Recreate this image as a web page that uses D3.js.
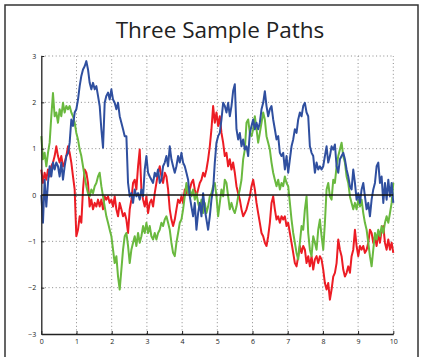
<!DOCTYPE html>
<html>
<head>
<meta charset="utf-8">
<script src="https://cdn.jsdelivr.net/npm/d3@7"></script>
<style>
  body { margin: 0; background: #fff; }
  svg { display: block; }
</style>
</head>
<body>
<div id="chart"></div>
<script>
// sample paths, one value per time step on [0, 10]
const red = [
  0.55, 0.26, 0.48, 0.33, 0.55, 0.4, 0.62, 0.7, 0.84, 1.05, 0.84, 0.7, 0.84, 0.62, 0.7, 0.84, 1.05, 0.91, 0.7, 0.4,
  0.12, -0.89, -0.75, -0.46, -0.6, 0.12, 0.55, 0.48, 0.26, -0.25, -0.1, -0.31, -0.17, -0.25, -0.1, -0.25, -0.1, -0.31, -0.03, -0.1,
  -0.03, -0.17, -0.1, -0.25, -0.03, -0.31, -0.46, -0.17, -0.31, -0.46, -0.39,
  -0.53, -0.82, -0.31, -0.1, 0.26, 0.33, 0.12, 0.62, 0.98, 0.12, -0.1, -0.25, -0.03, -0.39, -0.17, -0.1, -0.25, 0.04, 0.26, 0.48,
  0.62, 0.4, 0.26, 0.48, 0.4, 0.12, -0.31, -0.53, -0.67, -0.53, -0.31, -0.1, -0.17, -0.03, -0.17, 0.12, 0.04, 0.19, 0.12, 0.26,
  0.33, 0.12, -0.03, 0.12, 0.26, 0.33, 0.48, 0.4, 0.55, 0.77, 1.05, 1.42, 1.92,
  1.56, 1.78, 1.49, 1.7, 1.34, 1.13, 0.84, 0.91, 0.62, 0.77, 0.55, 0.7, 0.48, 0.19, 0.04, -0.1, -0.31, -0.46, -0.39, -0.31,
  -0.17, -0.03, 0.19, 0.33, 0.12, -0.17, -0.39, -0.6, -0.82, -0.89, -1.03, -1.1, -0.89, -0.6, -0.17, -0.03, -0.31, -0.53, -0.46, -0.6,
  -0.46, -0.53, -0.46, -0.67, -0.6, -0.82, -1.03, -1.25, -1.47, -1.54, -1.32, -1.1, -1.25,
  -1.1, -1.18, -1.47, -1.32, -1.54, -1.32, -1.61, -1.39, -1.32, -1.47, -1.32, -1.39, -1.61, -1.9, -2.04, -1.9, -2.26, -2.04, -1.76, -1.68,
  -1.47, -0.96, -1.18, -1.32, -1.61, -1.76, -1.68, -1.54, -1.68, -1.32, -1.18, -0.75, -1.1, -1.32, -1.1, -1.18, -1.1, -1.25, -1.18, -1.03,
  -0.75, -0.82, -1.03, -0.89, -1.1, -0.82, -1.03, -0.75, -0.67, -1.03, -1.18, -0.96, -1.18, -1.03, -1.25
];
const green = [
  1.27, 0.77, 0.91, 0.62, 0.91, 1.13, 1.7, 2.2, 1.7, 1.78, 1.56, 1.85, 1.7, 1.99, 1.78, 1.92, 1.85, 1.92, 1.78, 1.7,
  1.56, 1.34, 1.2, 0.98, 0.84, 0.62, 0.4, 0.19, 0.04, -0.03, 0.12, 0.04, 0.19, 0.26, 0.4, 0.48, 0.19, -0.03, -0.25, -0.46,
  -0.6, -0.75, -0.89, -1.18, -1.47, -1.32, -1.76, -2.04, -1.61, -1.18, -0.89,
  -0.82, -1.1, -1.47, -1.18, -1.03, -0.89, -1.1, -0.82, -1.03, -0.89, -0.67, -0.82, -0.6, -0.82, -0.67, -0.89, -0.96, -0.82, -0.96, -0.82,
  -0.75, -0.6, -0.67, -0.53, -0.46, -0.6, -0.75, -1.03, -1.25, -1.32, -1.03, -0.82, -0.6, -0.53, -0.31, -0.03, 0.26, 0.04, 0.12, -0.03,
  0.12, -0.1, 0.04, -0.17, -0.31, -0.1, -0.39, -0.17, -0.39, -0.25, -0.03, 0.04, 0.19,
  0.26, -0.03, -0.46, -0.17, 0.12, -0.03, 0.33, 0.26, -0.03, -0.31, -0.17, -0.31, -0.39, -0.25, -0.03, 0.12, 0.33, 0.77, 0.98, 1.56,
  1.63, 1.34, 1.27, 1.42, 1.7, 1.42, 1.13, 1.34, 1.56, 1.78, 1.63, 1.27, 1.13, 0.98, 0.7, 0.48, 0.33, 0.19, 0.33, 0.12,
  0.26, 0.19, 0.4, 0.26, 0.19, -0.17, -0.53, -0.82, -1.03, -1.25, -1.39, -1.03, -0.67,
  -0.75, -0.31, -0.03, -0.82, -1.18, -1.32, -0.89, -1.03, -1.18, -0.75, -0.53, -0.89, -1.18, -0.6, 0.12, 0.26, -0.03, -0.1, 0.33, 0.26,
  0.62, 0.84, 0.98, 1.13, 0.84, 0.7, 0.4, 0.26, -0.03, -0.17, -0.31, -0.17, -0.31, -0.1, -0.25, -0.1, -0.39, -0.6, -0.75, -1.03,
  -1.32, -1.54, -1.18, -0.82, -0.96, -0.75, -0.89, -0.67, -0.82, -0.6, -0.46, -0.6, -0.39, -0.17, 0.26
];
const blue = [
  0.0, -0.6, 0.33, -0.25, 0.26, 0.62, 0.4, 0.7, 0.55, 0.7, 0.62, 0.4, 0.7, 0.33, 0.62, 0.84, 0.9, 1.13, 1.63, 1.49,
  1.78, 1.85, 2.06, 2.35, 2.57, 2.71, 2.78, 2.89, 2.71, 2.42, 2.28, 2.42, 2.28, 2.35, 2.14, 1.92, 1.42, 1.02, 1.99, 2.14,
  2.21, 2.06, 2.28, 2.06, 1.99, 1.85, 1.99, 1.7, 1.56, 1.42, 1.27,
  1.27, 0.26, -0.03, 0.04, -0.17, 0.12, -0.03, 0.04, -0.1, 0.12, -0.03, 0.55, 0.84, 0.48, 0.4, 0.33, 0.26, 0.48, 0.4, 0.55,
  0.26, 0.33, 0.62, 0.7, 0.84, 0.62, 1.05, 0.77, 0.62, 0.48, 0.62, 0.84, 0.7, 0.91, 0.7, 0.62, 0.48, 0.33, -0.03, -0.25,
  -0.46, -0.17, -0.75, -0.39, -0.17, -0.46, 0.04, -0.31, -0.53, -0.75, -0.46, -0.1, 0.12,
  0.7, 1.13, 1.27, 1.34, 1.63, 1.99, 1.92, 1.78, 1.99, 1.7, 1.92, 2.25, 2.39, 1.42, 1.2, 1.34, 1.05, 1.2, 0.98, 1.05,
  0.84, 1.34, 1.49, 1.63, 1.42, 1.56, 1.42, 1.56, 1.85, 1.99, 2.24, 1.92, 1.7, 1.85, 1.92, 1.63, 1.42, 1.2, 1.27, 0.91,
  0.84, 0.91, 0.55, 0.84, 0.48, 0.77, 1.05, 1.2, 1.42, 1.34, 1.63, 1.78, 1.7,
  1.92, 1.99, 1.78, 1.7, 1.05, 0.91, 0.84, 0.48, 0.7, 0.55, 0.62, 0.55, 0.62, 0.84, 1.05, 0.7, 0.84, 1.05, 0.98, 1.09,
  0.62, 0.48, 0.77, 0.84, 0.91, 0.77, 0.55, 0.4, 0.19, 0.12, 0.55, 0.26, -0.1, 0.04, -0.17, 0.12, 0.26, -0.03, -0.31, -0.17,
  -0.46, -0.1, 0.12, 0.26, 0.62, 0.7, 0.26, 0.4, -0.17, 0.26, -0.1, 0.33, -0.03, 0.26, -0.17
];
const xTicks = [0, 1, 2, 3, 4, 5, 6, 7, 8, 9, 10];
const yTicks = [-3, -2, -1, 0, 1, 2, 3];
const title = "Three Sample Paths";

const width = 422, height = 357;
const tEnd = 10;
const dt = tEnd / (red.length - 1);

const svg = d3.select("#chart").append("svg")
    .attr("width", width)
    .attr("height", height);

// figure frame
svg.append("rect")
    .attr("x", 5)
    .attr("y", 5)
    .attr("width", 413)
    .attr("height", 370)
    .attr("fill", "none")
    .attr("stroke", "#333")
    .attr("stroke-width", 1.5);

const x = d3.scaleLinear().domain([0, 10]).range([41.3, 393.3]);
const y = d3.scaleLinear().domain([-3, 3]).range([334, 56]);

// dotted grid
const grid = svg.append("g")
    .attr("stroke", "#8a8a8a")
    .attr("stroke-width", 1)
    .attr("stroke-dasharray", "1,2.6");

grid.selectAll("line.gx")
    .data(xTicks.filter(d => d > 0))
    .join("line")
    .attr("x1", d => x(d)).attr("x2", d => x(d))
    .attr("y1", y(-3)).attr("y2", y(3));

grid.selectAll("line.gy")
    .data(yTicks.filter(d => d > -3 && d !== 0))
    .join("line")
    .attr("x1", x(0)).attr("x2", x(10))
    .attr("y1", d => y(d)).attr("y2", d => y(d));

const line = d3.line()
    .x((d, i) => x(i * dt))
    .y(d => y(d));

const series = [
    { values: red, color: "#ec1c24" },
    { values: green, color: "#6ab93f" },
    { values: blue, color: "#2f4f9f" }
];

svg.append("g")
    .selectAll("path")
    .data(series)
    .join("path")
    .attr("fill", "none")
    .attr("stroke", d => d.color)
    .attr("stroke-width", 2)
    .attr("stroke-linejoin", "round")
    .attr("d", d => line(d.values));

// zero line
svg.append("line")
    .attr("x1", x(0)).attr("x2", x(10))
    .attr("y1", y(0)).attr("y2", y(0))
    .attr("stroke", "#111")
    .attr("stroke-width", 1.6);

// axes, ticks point inward
const xAxis = svg.append("g")
    .attr("transform", `translate(0,${y(-3)})`)
    .call(d3.axisBottom(x).tickValues(xTicks).tickFormat(d3.format("d"))
        .tickSizeInner(-3).tickSizeOuter(0).tickPadding(5));

const yAxis = svg.append("g")
    .attr("transform", `translate(${x(0)},0)`)
    .call(d3.axisLeft(y).tickValues(yTicks).tickFormat(d => d < 0 ? "\u2212" + Math.abs(d) : d)
        .tickSizeInner(-3).tickSizeOuter(0).tickPadding(5));

[xAxis, yAxis].forEach(g => {
    g.select(".domain").attr("stroke", "#222").attr("stroke-width", 1.3);
    g.selectAll(".tick line").attr("stroke", "#222");
    g.selectAll(".tick text")
        .attr("fill", "#222")
        .attr("font-family", "Open Sans, sans-serif")
        .attr("font-size", "7px");
});

svg.append("text")
    .attr("x", 220)
    .attr("y", 38)
    .attr("text-anchor", "middle")
    .attr("font-family", "Open Sans, sans-serif")
    .attr("font-size", "22.5px")
    .attr("fill", "#222")
    .text(title);
</script>
</body>
</html>
